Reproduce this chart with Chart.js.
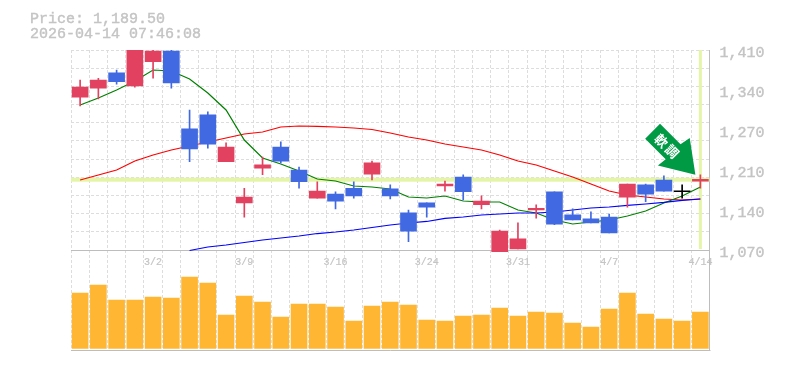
<!DOCTYPE html>
<html>
<head>
<meta charset="utf-8">
<script src="https://cdn.jsdelivr.net/npm/chart.js@4"></script>
<style>
html, body { margin: 0; padding: 0; background: #fff; }
canvas { display: block; }
</style>
</head>
<body>
<canvas id="stockChart" width="785" height="370"></canvas>
<script>
var titlePrice = 'Price: 1,189.50';
var titleTime = '2026-04-14 07:46:08';
var lastPrice = 1189.5;
var arrowText = ['軟', '調'];

var dates = ['2/24', '2/25', '2/26', '2/27', '3/2', '3/3', '3/4', '3/5', '3/6', '3/9', '3/10', '3/11', '3/12', '3/13', '3/16', '3/17', '3/18', '3/19', '3/23', '3/24', '3/25', '3/26', '3/27', '3/30', '3/31', '4/1', '4/2', '4/3', '4/6', '4/7', '4/8', '4/9', '4/10', '4/13', '4/14'];
var shownDates = ['3/2', '3/9', '3/16', '3/24', '3/31', '4/7', '4/14'];

var opens = [1330, 1345, 1371, 1349, 1390, 1408, 1276, 1300, 1220, 1150, 1209, 1245, 1206, 1158, 1165, 1175, 1199, 1174, 1133, 1150, 1179, 1194, 1147, 1067, 1072, 1138, 1169, 1130, 1123, 1126, 1160, 1181, 1189, 1170, 1187];
var highs = [1359, 1362, 1376, 1415, 1412, 1412, 1308, 1305, 1252, 1175, 1228, 1254, 1211, 1186, 1169, 1186, 1221, 1181, 1138, 1150, 1187, 1198, 1162, 1104, 1116, 1147, 1169, 1140, 1135, 1131, 1182, 1182, 1196, 1181, 1198];
var lows = [1315, 1327, 1352, 1347, 1362, 1345, 1220, 1243, 1220, 1126, 1198, 1218, 1175, 1158, 1140, 1158, 1189, 1157, 1084, 1126, 1170, 1155, 1140, 1067, 1072, 1124, 1113, 1121, 1116, 1099, 1143, 1152, 1170, 1158, 1175];
var closes = [1347, 1359, 1356, 1412, 1408, 1354, 1242, 1250, 1245, 1160, 1215, 1221, 1186, 1170, 1153, 1162, 1218, 1162, 1102, 1143, 1182, 1169, 1153, 1102, 1089, 1141, 1114, 1121, 1116, 1099, 1182, 1165, 1170, 1170, 1190];

var maShort = [1316.5, 1328.4, 1342, 1357.3, 1376, 1374.3, 1360.7, 1336.9, 1308, 1257, 1226.4, 1216.2, 1204.3, 1190.7, 1187.3, 1178.8, 1177.1, 1173.7, 1160.1, 1158.4, 1161.8, 1153.3, 1151.6, 1151.6, 1138, 1132.9, 1121, 1114.2, 1117.6, 1121, 1127.8, 1136.3, 1149.9, 1161.8, 1177.1];
var maMid = [1189, 1197.5, 1206, 1221.3, 1231.5, 1240, 1246.8, 1253.6, 1260.4, 1267.2, 1270.6, 1279.1, 1280.8, 1280, 1279.1, 1277.4, 1274.9, 1268.9, 1262.1, 1257, 1250.2, 1245.1, 1240, 1231.5, 1221.3, 1214.5, 1204.3, 1194.1, 1182.2, 1170.3, 1163.5, 1160.1, 1156.7, 1155, 1156.7];
var maLong = [null, null, null, null, null, null, 1069.2, 1075.1, 1078.5, 1082.8, 1087, 1090.4, 1093.8, 1098, 1100.6, 1104, 1108.3, 1112.5, 1115.9, 1118.5, 1123.6, 1126.1, 1129.5, 1131.2, 1132.9, 1132.9, 1134.6, 1138, 1141.4, 1143.1, 1145.7, 1148.2, 1150.8, 1154.2, 1156.7];

var volumes = [553, 633, 483, 483, 513, 503, 713, 653, 333, 523, 463, 313, 443, 443, 413, 273, 423, 463, 433, 283, 273, 323, 333, 403, 323, 363, 353, 253, 213, 393, 553, 343, 293, 273, 363];

var priceTicks = [1410, 1342, 1274, 1206, 1138, 1070];
var priceTickLabels = ['1,410', '1,340', '1,270', '1,210', '1,140', '1,070'];

var UP_COLOR = '#e34160';
var DOWN_COLOR = '#4169e1';
var FLAT_COLOR = '#000000';
var TEXT_COLOR = '#c4c4c4';
var LINE_COLOR = '#bdbdbd';
var GRID_COLOR = '#dddddd';
var BAND_COLOR = '#e4f5a8';
var MONO = '"Liberation Mono", monospace';

// price area is 1070-1410, the rest of the canvas height goes to volume
var PRICE_MAX = 1410;
var PRICE_MIN = 900;

var candleColors = closes.map(function (c, i) {
  if (c > opens[i]) return UP_COLOR;
  if (c < opens[i]) return DOWN_COLOR;
  return FLAT_COLOR;
});
var wicks = highs.map(function (h, i) { return [lows[i], h]; });
var bodies = opens.map(function (o, i) {
  // a flat candle still needs a visible stroke
  return o === closes[i] ? [o - 0.8, o + 0.8] : [o, closes[i]];
});

var gridValues = [];
for (var g = 0; g <= 11; g++) {
  gridValues.push(1070 + g * 340 / 11);
}

var decorPlugin = {
  id: 'decor',
  beforeDatasetsDraw: function (chart) {
    var ctx = chart.ctx;
    var area = chart.chartArea;
    var y = chart.scales.y;
    var x = chart.scales.x;
    var priceY = y.getPixelForValue(lastPrice);
    var lastX = x.getPixelForValue(dates.length - 1);
    ctx.save();
    ctx.fillStyle = BAND_COLOR;
    ctx.fillRect(area.left, priceY - 2, area.right - area.left, 4);
    ctx.fillRect(lastX - 1.5, area.top, 3, y.getPixelForValue(1070) - area.top - 1);
    ctx.restore();
  },
  afterDatasetsDraw: function (chart) {
    var ctx = chart.ctx;
    var area = chart.chartArea;
    var y = chart.scales.y;
    var x = chart.scales.x;
    ctx.save();
    ctx.strokeStyle = LINE_COLOR;
    ctx.lineWidth = 1;
    ctx.beginPath();
    ctx.moveTo(area.left, area.bottom + 0.5);
    ctx.lineTo(area.right + 1, area.bottom + 0.5);
    ctx.stroke();

    // signal arrow, points at the latest price
    ctx.translate(x.getPixelForValue(dates.length - 1) - 5, y.getPixelForValue(lastPrice) - 5);
    ctx.rotate(Math.PI / 4);
    ctx.fillStyle = '#009944';
    ctx.beginPath();
    ctx.moveTo(0, 0);
    ctx.lineTo(-30, -22);
    ctx.lineTo(-32, -11);
    ctx.lineTo(-61, -11);
    ctx.lineTo(-61, 10);
    ctx.lineTo(-32, 10);
    ctx.lineTo(-33, 20);
    ctx.closePath();
    ctx.fill();
    ctx.fillStyle = '#ffffff';
    ctx.font = 'bold 13px "Noto Sans CJK JP"';
    ctx.textAlign = 'center';
    ctx.textBaseline = 'middle';
    ctx.fillText(arrowText[0], -48, 0);
    ctx.fillText(arrowText[1], -33, 0);
    ctx.restore();

    ctx.save();
    ctx.fillStyle = TEXT_COLOR;
    ctx.strokeStyle = TEXT_COLOR;
    ctx.lineWidth = 0.4;
    ctx.font = '15px ' + MONO;
    ctx.textBaseline = 'alphabetic';
    ctx.strokeText(titlePrice, 30, 23);
    ctx.fillText(titlePrice, 30, 23);
    ctx.strokeText(titleTime, 30, 38);
    ctx.fillText(titleTime, 30, 38);
    ctx.restore();
  }
};

var chart = new Chart(document.getElementById('stockChart').getContext('2d'), {
  type: 'bar',
  data: {
    labels: dates,
    datasets: [
      { type: 'bar', label: 'Volume', data: volumes, yAxisID: 'yVolume', backgroundColor: '#ffb733', barThickness: 16, grouped: false, order: 6 },
      { type: 'line', label: 'MA long', data: maLong, yAxisID: 'y', borderColor: '#0000ff', borderWidth: 1.2, pointRadius: 0, tension: 0, order: 3 },
      { type: 'line', label: 'MA short', data: maShort, yAxisID: 'y', borderColor: '#008000', borderWidth: 1.2, pointRadius: 0, tension: 0, order: 4 },
      { type: 'line', label: 'MA mid', data: maMid, yAxisID: 'y', borderColor: '#ff0000', borderWidth: 1.2, pointRadius: 0, tension: 0, order: 5 },
      { type: 'bar', label: 'Wick', data: wicks, yAxisID: 'y', backgroundColor: candleColors, barThickness: 1, grouped: false, order: 2 },
      { type: 'bar', label: 'Body', data: bodies, yAxisID: 'y', backgroundColor: candleColors, barThickness: 16, grouped: false, order: 1 }
    ]
  },
  options: {
    responsive: false,
    animation: false,
    events: [],
    layout: { padding: { left: 71, top: 50, bottom: 20, right: 0 } },
    plugins: {
      legend: { display: false },
      tooltip: { enabled: false }
    },
    scales: {
      x: {
        type: 'category',
        offset: true,
        position: { y: 1070 },
        border: { color: LINE_COLOR, width: 1, dash: [3, 2] },
        grid: { offset: true, color: GRID_COLOR, drawTicks: false },
        ticks: {
          autoSkip: false,
          maxRotation: 0,
          padding: 6,
          color: TEXT_COLOR,
          textStrokeColor: TEXT_COLOR,
          textStrokeWidth: 0.2,
          font: { family: MONO, size: 10 },
          callback: function (value) {
            var label = this.getLabelForValue(value);
            return shownDates.indexOf(label) >= 0 ? label : '';
          }
        }
      },
      y: {
        position: 'right',
        min: PRICE_MIN,
        max: PRICE_MAX,
        afterFit: function (scale) { scale.width = 75.5; },
        afterBuildTicks: function (scale) {
          scale.ticks = priceTicks.map(function (v) { return { value: v }; });
        },
        border: { color: LINE_COLOR, width: 1 },
        grid: { display: false, drawTicks: false },
        ticks: {
          padding: 10,
          labelOffset: 3,
          color: TEXT_COLOR,
          textStrokeColor: TEXT_COLOR,
          textStrokeWidth: 0.4,
          font: { family: MONO, size: 15 },
          callback: function (value) {
            return priceTickLabels[priceTicks.indexOf(value)];
          }
        }
      },
      yGrid: {
        position: 'right',
        min: PRICE_MIN,
        max: PRICE_MAX,
        afterFit: function (scale) { scale.width = 0; },
        afterBuildTicks: function (scale) {
          scale.ticks = gridValues.map(function (v) { return { value: v }; });
        },
        border: { display: false, dash: [3, 2] },
        grid: { color: GRID_COLOR, drawTicks: false },
        ticks: { display: false }
      },
      yVolume: {
        display: false,
        min: -17,
        max: 2983
      }
    }
  },
  plugins: [decorPlugin]
});
</script>
</body>
</html>
